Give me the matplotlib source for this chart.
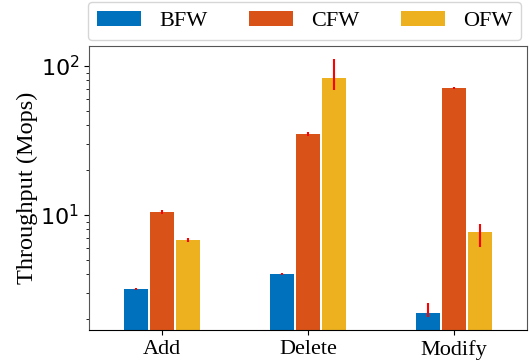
import matplotlib.pyplot as plt
import numpy as np

ops = ['Add', 'Delete', 'Modify']
series = ['BFW', 'CFW', 'OFW']
colors = ['#0072BD', '#D95319', '#EDB120']

bfw = [3.18, 4.02, 2.2]
cfw = [10.47, 35.0, 71.0]
ofw = [6.8, 83.0, 7.7]

# lower / upper error lengths
bfw_err = [[0.06, 0.06, 0.13], [0.06, 0.06, 0.37]]
cfw_err = [[0.35, 0.9, 1.5], [0.35, 0.9, 1.5]]
ofw_err = [[0.2, 14.0, 1.6], [0.2, 28.0, 1.0]]

values = [bfw, cfw, ofw]
errors = [bfw_err, cfw_err, ofw_err]

serif = ['Liberation Serif', 'DejaVu Serif']

fig = plt.figure(figsize=(5.29, 3.62), dpi=100)
ax = fig.add_axes([89 / 529, 32 / 362, 438 / 529, 284 / 362])

x = np.arange(len(ops))
width = 0.165
step = 0.18
handles = []
for i, (vals, err, c, name) in enumerate(zip(values, errors, colors, series)):
    pos = x + (i - 1) * step
    b = ax.bar(pos, vals, width, color=c, label=name, zorder=2)
    ax.errorbar(pos, vals, yerr=np.array(err), fmt='none', ecolor='red',
                elinewidth=1.5, capsize=0, zorder=3)
    handles.append(b)

ax.set_yscale('log')
ax.set_ylim(1.69, 136)
ax.set_xlim(-0.5, 2.5)
ax.set_xticks(x)
ax.set_xticklabels(ops, fontsize=16, family=serif)
ax.tick_params(axis='y', labelsize=16)
ax.set_ylabel('Throughput (Mops)', fontsize=17.5, family=serif, labelpad=2)

for s in ['left', 'top', 'right']:
    ax.spines[s].set_color('#555555')

fig.legend(handles=handles, labels=series, ncol=3, mode='expand',
           loc='lower left', bbox_to_anchor=(88 / 529, 322 / 362, 433 / 529, 37 / 362),
           borderaxespad=0, prop={'family': serif, 'size': 16},
           fancybox=True, edgecolor='#cccccc', handlelength=2.0)

fig.savefig('out.png', dpi=100)
